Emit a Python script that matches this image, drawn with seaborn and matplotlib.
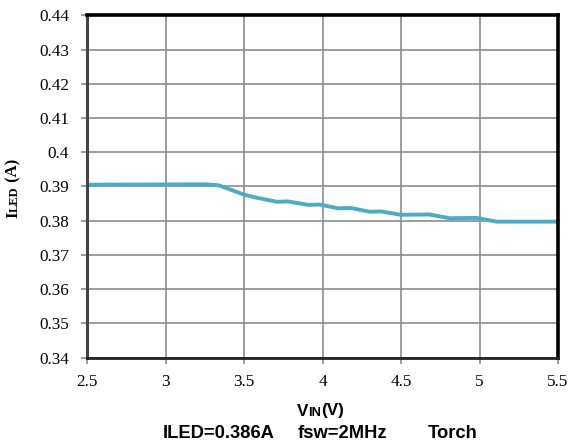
import matplotlib
matplotlib.use("Agg")
import matplotlib.pyplot as plt
import seaborn as sns
import pandas as pd

vin = [2.5, 3.26, 3.34, 3.5, 3.58, 3.71, 3.78, 3.91, 3.98, 4.10, 4.18, 4.30, 4.37, 4.50, 4.68, 4.81, 4.98, 5.11, 5.5]
iled = [0.3905, 0.3906, 0.3903, 0.3876, 0.3867, 0.3855, 0.3856, 0.3846, 0.3847, 0.3836, 0.3837, 0.3826, 0.3827, 0.3817, 0.3818, 0.3807, 0.3808, 0.3797, 0.3797]
xticks = [2.5, 3, 3.5, 4, 4.5, 5, 5.5]
yticks = [0.34, 0.35, 0.36, 0.37, 0.38, 0.39, 0.40, 0.41, 0.42, 0.43, 0.44]
ytick_labels = ["0.34", "0.35", "0.36", "0.37", "0.38", "0.39", "0.4", "0.41", "0.42", "0.43", "0.44"]
xtick_labels = ["2.5", "3", "3.5", "4", "4.5", "5", "5.5"]
subtitle_parts = ["ILED=0.386A", "fsw=2MHz", "Torch"]

df = pd.DataFrame({"vin": vin, "iled": iled})

sns.set_theme(style="white")
plt.rcParams['font.family'] = ['Liberation Serif', 'DejaVu Serif']
plt.rcParams['text.color'] = 'black'
plt.rcParams['xtick.labelcolor'] = 'black'
plt.rcParams['ytick.labelcolor'] = 'black'

W, H = 571, 443
fig = plt.figure(figsize=(W / 100, H / 100), dpi=100)
ax = fig.add_axes([87 / W, 1 - 357.5 / H, (558 - 87) / W, (357.5 - 15.3) / H])

sns.lineplot(data=df, x="vin", y="iled", ax=ax, color="#4BACC6", linewidth=2.8)

ax.set_xlim(2.5, 5.5)
ax.set_ylim(0.34, 0.44)
ax.set_xticks(xticks)
ax.set_xticklabels(xtick_labels, fontsize=12.3, color="black")
ax.set_yticks(yticks)
ax.set_yticklabels(ytick_labels, fontsize=12.3, color="black")
ax.grid(True, color="#8c8c8c", linewidth=1.2)
ax.set_axisbelow(True)
ax.tick_params(axis="both", which="both", direction="out", length=4.5, width=1.2,
               color="#8c8c8c", bottom=True, left=True)
ax.tick_params(axis="x", pad=7.5)
ax.tick_params(axis="y", pad=8.5)

for side in ["top", "right", "bottom"]:
    ax.spines[side].set_color("black")
ax.spines["top"].set_linewidth(2.6)
ax.spines["right"].set_linewidth(2.6)
ax.spines["bottom"].set_linewidth(2.0)
ax.spines["bottom"].set_color("#222222")
ax.spines["left"].set_color("#444444")
ax.spines["left"].set_linewidth(2.2)

ax.set_xlabel("")
ax.set_ylabel("")

renderer = fig.canvas.get_renderer()


def width_px(s, **kw):
    t = fig.text(0, 0, s, **kw)
    w = t.get_window_extent(renderer=renderer).width
    t.remove()
    return w


def segmented(x0, y0, parts, rotation=0):
    pos = 0.0
    for s, kw in parts:
        w = width_px(s, **kw)
        if rotation == 0:
            fig.text((x0 + pos) / W, 1 - y0 / H, s, ha="left", va="baseline", **kw)
        else:
            fig.text(x0 / W, 1 - (y0 - pos) / H, s, ha="left", va="baseline",
                     rotation=90, rotation_mode="anchor", **kw)
        pos += w


serif = dict(family=["Liberation Serif", "DejaVu Serif"], fontweight="bold", color="black")
sans = dict(family=["Liberation Sans", "DejaVu Sans"], fontweight="bold", color="black")

# y label: I + small caps LED + (A)
segmented(17.5, 218.5, [("I", dict(fontsize=12, **serif)),
                        ("LED", dict(fontsize=9, **serif)),
                        (" (A)", dict(fontsize=12, **serif))], rotation=90)

# x label: V + small caps IN + (V)
segmented(297, 415.5, [("V", dict(fontsize=12.3, **sans)),
                       ("IN", dict(fontsize=9.3, **sans)),
                       ("(V)", dict(fontsize=12.3, **sans))])

# subtitle
for xpos, s in zip([163, 298, 428], subtitle_parts):
    fig.text(xpos / W, 1 - 438 / H, s, ha="left", va="baseline", fontsize=13.2, **sans)

fig.savefig("out.png", dpi=100)
